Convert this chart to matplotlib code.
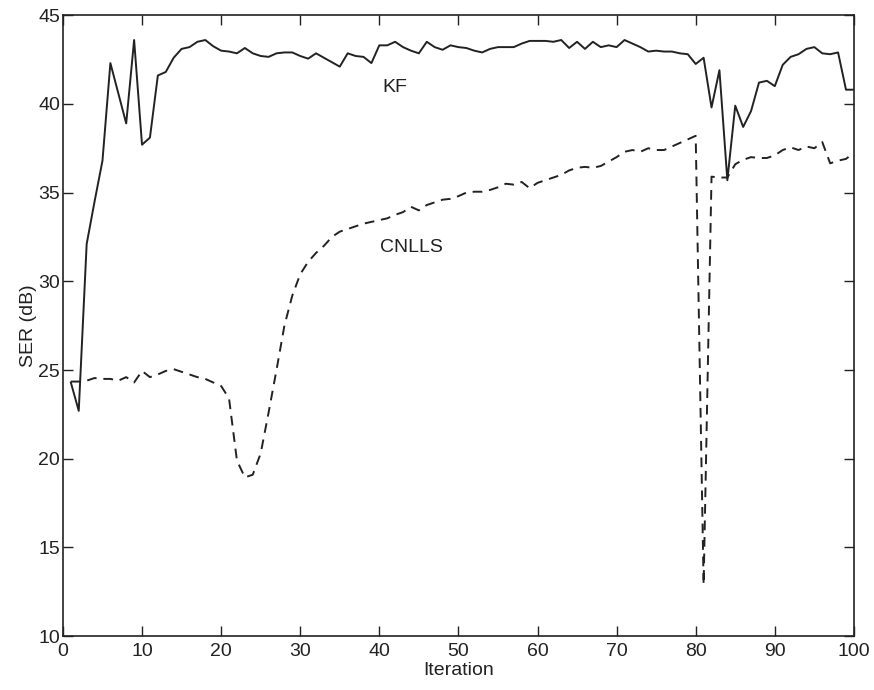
import numpy as np
import matplotlib
matplotlib.use("Agg")
from matplotlib import pyplot as plt

# iteration index
iteration = list(range(1, 101))

# SER (dB) of the Kalman filter
kf_ser = [24.3, 22.7, 32.1, 34.5, 36.8, 42.3, 40.6, 38.9, 43.6, 37.7,
          38.1, 41.6, 41.8, 42.6, 43.1, 43.2, 43.5, 43.6, 43.25, 43.0,
          42.95, 42.85, 43.15, 42.85, 42.7, 42.65, 42.85, 42.9, 42.9, 42.7,
          42.55, 42.85, 42.6, 42.35, 42.1, 42.85, 42.7, 42.65, 42.3, 43.3,
          43.3, 43.5, 43.2, 43.0, 42.85, 43.5, 43.2, 43.05, 43.3, 43.2,
          43.15, 43.0, 42.9, 43.1, 43.2, 43.2, 43.2, 43.4, 43.55, 43.55,
          43.55, 43.5, 43.6, 43.15, 43.5, 43.1, 43.5, 43.2, 43.3, 43.2,
          43.6, 43.4, 43.2, 42.95, 43.0, 42.95, 42.95, 42.85, 42.8, 42.25,
          42.6, 39.8, 41.9, 35.7, 39.9, 38.7, 39.6, 41.2, 41.3, 41.0,
          42.2, 42.65, 42.8, 43.1, 43.2, 42.85, 42.8, 42.9, 40.8, 40.8]

# SER (dB) of CNLLS
cnlls_ser = [24.35, 24.35, 24.4, 24.55, 24.5, 24.5, 24.4, 24.6, 24.3, 24.95,
             24.6, 24.75, 24.95, 25.05, 24.9, 24.75, 24.6, 24.5, 24.3, 24.1,
             23.4, 19.9, 18.95, 19.1, 20.3, 22.6, 25.0, 27.5, 29.2, 30.4,
             31.1, 31.6, 32.0, 32.5, 32.8, 32.95, 33.1, 33.25, 33.35, 33.45,
             33.55, 33.75, 33.9, 34.2, 34.0, 34.3, 34.45, 34.6, 34.65, 34.8,
             35.0, 35.05, 35.05, 35.15, 35.3, 35.5, 35.45, 35.6, 35.25, 35.55,
             35.7, 35.85, 36.0, 36.25, 36.4, 36.45, 36.4, 36.5, 36.75, 37.0,
             37.3, 37.4, 37.3, 37.5, 37.4, 37.4, 37.6, 37.8, 38.0, 38.2,
             12.9, 35.9, 35.85, 35.85, 36.6, 36.85, 37.0, 36.95, 36.95, 37.1,
             37.4, 37.55, 37.4, 37.6, 37.5, 37.85, 36.65, 36.8, 36.9, 37.25]

x_ticks = list(range(0, 101, 10))
y_ticks = list(range(10, 46, 5))

plt.rcParams['font.family'] = ['Liberation Sans', 'DejaVu Sans']

ink = "#222222"

fig = plt.figure(figsize=(8.74, 6.9), dpi=100)
ax = fig.add_axes([0.072, 0.078, 0.905, 0.900])

ax.plot(iteration, kf_ser, color=ink, lw=1.4)
ax.plot(iteration, cnlls_ser, color=ink, lw=1.4, dashes=(5, 3.5))

ax.text(40.4, 40.9, "KF", fontsize=14, color=ink, va="center")
ax.text(40.1, 31.9, "CNLLS", fontsize=14, color=ink, va="center")

ax.set_xlim(0, 100)
ax.set_ylim(10, 45)
ax.set_xticks(x_ticks)
ax.set_yticks(y_ticks)
ax.tick_params(direction="in", top=True, right=True, length=7,
               width=1.0, colors=ink, labelsize=14)
ax.tick_params(axis="x", pad=5)
ax.tick_params(axis="y", pad=2)
for s in ax.spines.values():
    s.set_color(ink)
    s.set_linewidth(1.2)

ax.set_xlabel("Iteration", fontsize=14, color=ink, labelpad=1)
ax.set_ylabel("SER (dB)", fontsize=14, color=ink, labelpad=1)

fig.savefig("out.png", dpi=100)
